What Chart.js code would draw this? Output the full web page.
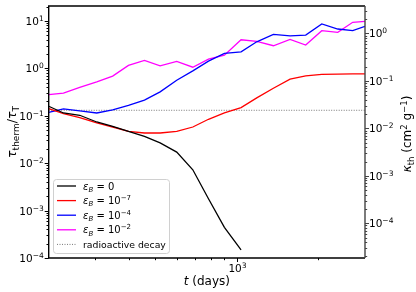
<!DOCTYPE html>
<html lang="en">
<head>
<meta charset="UTF-8">
<title>tau_therm / tau_T</title>
<script src="https://cdn.jsdelivr.net/npm/chart.js"></script>
<style>
  html, body { margin: 0; padding: 0; background: #fff; }
</style>
</head>
<body>
<canvas id="graphique" width="416" height="292"></canvas>
<script>
// temps (jours) des instants calculés
const tDays = [202, 229, 263, 304, 348, 398, 456, 521, 600, 688, 786, 900, 1037, 1185, 1365, 1573, 1797, 2060, 2360, 2680, 2975];
// tau_therm / tau_T pour chaque epsilon_B
const tauB0 = [0.158, 0.114, 0.102, 0.0736, 0.0597, 0.0468, 0.0367, 0.0267, 0.0171, 0.00724, 0.00177, 0.000443, 0.000148];
const tauB7 = [0.141, 0.111, 0.0911, 0.0701, 0.0577, 0.0468, 0.0431, 0.0431, 0.0468, 0.0577, 0.0839, 0.114, 0.148, 0.237, 0.379, 0.588, 0.691, 0.740, 0.750, 0.762, 0.762];
const tauB4 = [0.118, 0.139, 0.126, 0.114, 0.132, 0.164, 0.212, 0.317, 0.56, 0.88, 1.41, 2.05, 2.22, 3.61, 5.18, 4.80, 5.01, 8.56, 6.71, 6.18, 7.66];
const tauB2 = [0.279, 0.298, 0.393, 0.515, 0.681, 1.15, 1.46, 1.12, 1.39, 1.05, 1.56, 1.89, 3.98, 3.69, 2.98, 4.06, 3.08, 6.18, 5.71, 9.3, 9.75];
const tauDecay = 0.130;
// bornes des axes
const yLimits = [1e-4, 20.5];
const kappaRatio = 5.4;   // tau / kappa
const legendLabels = ['0', '−7', '−4', '−2'];

const FONT = '"DejaVu Sans", sans-serif';

function pts(vals) { return vals.map((v, i) => ({x: tDays[i], y: v})); }

function setFont(ctx, p) { ctx.font = (p.it ? 'italic ' : '') + p.size + 'px ' + FONT; }
function largeur(ctx, parts) {
  let w = 0;
  parts.forEach(p => { setFont(ctx, p); w += ctx.measureText(p.t).width; });
  return w;
}
function ecrire(ctx, parts, x, y, align) {
  const w = largeur(ctx, parts);
  let cx = align === 'right' ? x - w : (align === 'center' ? x - w / 2 : x);
  ctx.textAlign = 'left';
  ctx.textBaseline = 'alphabetic';
  parts.forEach(p => {
    setFont(ctx, p);
    ctx.fillText(p.t, cx, y + (p.dy || 0));
    cx += ctx.measureText(p.t).width;
  });
}
function puissance(e) {
  return [{t: '10', size: 10.5}, {t: e < 0 ? '−' + (-e) : String(e), size: 7.5, dy: -4.5}];
}

// graduations log (majeures + mineures)
function graduations(min, max) {
  const out = [];
  for (let d = Math.floor(Math.log10(min)); d <= Math.ceil(Math.log10(max)); d++) {
    for (let m = 1; m <= 9; m++) {
      const v = m * Math.pow(10, d);
      if (v >= min * 0.999 && v <= max * 1.001) out.push({v: v, major: m === 1, e: d});
    }
  }
  return out;
}

const axesPlugin = {
  id: 'axesMpl',
  afterDraw(chart) {
    const ctx = chart.ctx;
    const a = chart.chartArea;
    const sx = chart.scales.x, sy = chart.scales.y, sy2 = chart.scales.y2;
    ctx.save();
    ctx.fillStyle = '#000';

    // ticks x
    ctx.strokeStyle = '#000';
    ctx.lineWidth = 1;
    graduations(sx.min, sx.max).forEach(g => {
      const px = Math.round(sx.getPixelForValue(g.v)) + 0.5;
      ctx.beginPath(); ctx.moveTo(px, a.bottom); ctx.lineTo(px, a.bottom + (g.major ? 4 : 2.2)); ctx.stroke();
      if (g.major) ecrire(ctx, puissance(g.e), px, a.bottom + 14, 'center');
    });
    // ticks y gauche
    graduations(sy.min, sy.max).forEach(g => {
      const py = Math.round(sy.getPixelForValue(g.v)) + 0.5;
      ctx.beginPath(); ctx.moveTo(a.left, py); ctx.lineTo(a.left - (g.major ? 4 : 2.2), py); ctx.stroke();
      if (g.major) ecrire(ctx, puissance(g.e), a.left - 5, py + 3.5, 'right');
    });
    // ticks y droite
    ctx.strokeStyle = '#444';
    graduations(sy2.min, sy2.max).forEach(g => {
      const py = Math.round(sy2.getPixelForValue(g.v)) + 0.5;
      ctx.beginPath(); ctx.moveTo(a.right, py); ctx.lineTo(a.right + (g.major ? 4 : 2.2), py); ctx.stroke();
      if (g.major) ecrire(ctx, puissance(g.e), a.right + 4, py + 3.5, 'left');
    });

    // cadre
    ctx.lineWidth = 1.4;
    ctx.strokeStyle = '#000';
    ctx.beginPath();
    ctx.moveTo(a.right, a.top); ctx.lineTo(a.left, a.top); ctx.lineTo(a.left, a.bottom); ctx.lineTo(a.right, a.bottom);
    ctx.stroke();
    ctx.strokeStyle = '#444';
    ctx.beginPath(); ctx.moveTo(a.right, a.top); ctx.lineTo(a.right, a.bottom); ctx.stroke();

    // titres des axes
    ctx.fillStyle = '#000';
    ecrire(ctx, [{t: 't', size: 12, it: true}, {t: ' (days)', size: 12}], (a.left + a.right) / 2, 285, 'center');

    ctx.save();
    ctx.translate(16, (a.top + a.bottom) / 2);
    ctx.rotate(-Math.PI / 2);
    ecrire(ctx, [{t: 'τ', size: 12.5, it: true}, {t: 'therm', size: 9, dy: 2.8}, {t: '/', size: 12.5},
                 {t: 'τ', size: 12.5, it: true}, {t: 'T', size: 9, dy: 2.8}], 0, 0, 'center');
    ctx.restore();

    ctx.save();
    ctx.translate(411, (a.top + a.bottom) / 2 + 2);
    ctx.rotate(-Math.PI / 2);
    ecrire(ctx, [{t: 'κ', size: 12, it: true}, {t: 'th', size: 8.5, dy: 2.8}, {t: ' (cm', size: 12},
                 {t: '2', size: 8.5, dy: -4.5}, {t: ' g', size: 12}, {t: '−1', size: 8.5, dy: -4.5}, {t: ')', size: 12}],
           0, 0, 'center');
    ctx.restore();

    // légende
    const lx = 53.5, ly = 179.5, lw = 116, lh = 74;
    ctx.beginPath();
    ctx.roundRect(lx, ly, lw, lh, 3);
    ctx.fillStyle = 'rgba(255,255,255,0.85)';
    ctx.fill();
    ctx.strokeStyle = '#d0d0d0';
    ctx.lineWidth = 1;
    ctx.stroke();
    const ds = chart.data.datasets;
    ds.forEach((d, i) => {
      const ry = 186 + i * 14.6;
      ctx.strokeStyle = d.borderColor;
      ctx.lineWidth = d.borderWidth;
      ctx.setLineDash(d.borderDash || []);
      ctx.beginPath(); ctx.moveTo(57, ry); ctx.lineTo(76, ry); ctx.stroke();
      ctx.setLineDash([]);
      ctx.fillStyle = '#000';
      let parts;
      if (i < legendLabels.length) {
        parts = [{t: 'ε', size: 10, it: true}, {t: 'B', size: 7, it: true, dy: 2.3}];
        if (legendLabels[i] === '0') parts.push({t: ' = 0', size: 10});
        else parts.push({t: ' = 10', size: 10}, {t: legendLabels[i], size: 7, dy: -4});
      } else {
        parts = [{t: 'radioactive decay', size: 9.3}];
      }
      ecrire(ctx, parts, 83, ry + 3.5, 'left');
    });
    ctx.restore();
  }
};

const serie = (vals, color) => ({
  data: pts(vals), borderColor: color, borderWidth: 1.3, pointRadius: 0, fill: false, tension: 0, yAxisID: 'y'
});

new Chart(document.getElementById('graphique').getContext('2d'), {
  type: 'line',
  data: {
    datasets: [
      serie(tauB0, '#000000'),
      serie(tauB7, '#ff0000'),
      serie(tauB4, '#0000ff'),
      serie(tauB2, '#ff00ff'),
      {
        data: [{x: tDays[0], y: tauDecay}, {x: tDays[tDays.length - 1], y: tauDecay}],
        borderColor: '#777777', borderWidth: 1, borderDash: [1, 1.5], pointRadius: 0, yAxisID: 'y'
      }
    ]
  },
  options: {
    responsive: false,
    animation: false,
    layout: { padding: { top: 6, left: 0, right: 0, bottom: 0 } },
    plugins: { legend: { display: false }, tooltip: { enabled: false } },
    scales: {
      x: {
        type: 'logarithmic', min: tDays[0], max: tDays[tDays.length - 1],
        ticks: { display: false }, grid: { display: false }, border: { display: false },
        afterFit: s => { s.height = 34; }
      },
      y: {
        type: 'logarithmic', position: 'left', min: yLimits[0], max: yLimits[1],
        ticks: { display: false }, grid: { display: false }, border: { display: false },
        afterFit: s => { s.width = 48.7; }
      },
      y2: {
        type: 'logarithmic', position: 'right', min: yLimits[0] / kappaRatio, max: yLimits[1] / kappaRatio,
        ticks: { display: false }, grid: { display: false }, border: { display: false },
        afterFit: s => { s.width = 51; }
      }
    }
  },
  plugins: [axesPlugin]
});
</script>
</body>
</html>
